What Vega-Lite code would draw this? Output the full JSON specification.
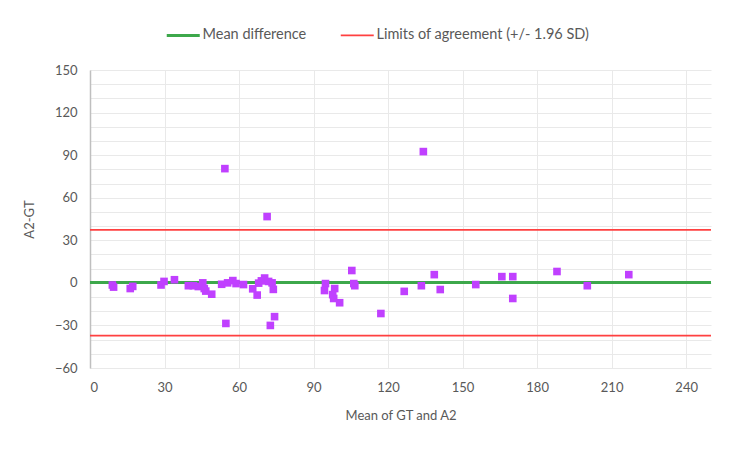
{
  "$schema": "https://vega.github.io/schema/vega-lite/v6.json",
  "width": 621,
  "height": 298,
  "autosize": "none",
  "padding": {"left": 90, "top": 70, "right": 39, "bottom": 82},
  "background": "white",
  "config": {
    "font": "Lato",
    "view": {"stroke": null},
    "axis": {
      "labelColor": "#595959",
      "titleColor": "#595959",
      "labelFont": "Lato",
      "titleFont": "Lato",
      "labelFontSize": 13,
      "titleFontSize": 13,
      "titleFontWeight": "normal",
      "ticks": false,
      "gridColor": "#e9e9e9",
      "gridWidth": 1
    },
    "legend": {
      "labelFont": "Lato",
      "labelFontSize": 14.5,
      "labelColor": "#595959",
      "labelLimit": 400
    }
  },
  "datasets": {
    "points": [
      {"mean": 9.0, "diff": -1.5},
      {"mean": 9.5, "diff": -3.0},
      {"mean": 16.2, "diff": -4.0},
      {"mean": 17.2, "diff": -2.5},
      {"mean": 28.6, "diff": -1.5},
      {"mean": 29.8, "diff": 1.0},
      {"mean": 34.0, "diff": 2.2},
      {"mean": 39.6, "diff": -2.0},
      {"mean": 41.6, "diff": -2.0},
      {"mean": 43.6, "diff": -2.6},
      {"mean": 45.4, "diff": 0.0},
      {"mean": 46.0, "diff": -4.0},
      {"mean": 46.6, "diff": -5.8},
      {"mean": 49.0, "diff": -8.0},
      {"mean": 53.0, "diff": -1.0},
      {"mean": 54.3, "diff": 80.5},
      {"mean": 54.7, "diff": -28.6},
      {"mean": 55.4, "diff": 0.0},
      {"mean": 57.5, "diff": 1.6},
      {"mean": 58.8, "diff": -0.5},
      {"mean": 61.8, "diff": -1.2},
      {"mean": 65.5, "diff": -4.2},
      {"mean": 67.3, "diff": -8.6},
      {"mean": 67.9, "diff": -0.2},
      {"mean": 69.0, "diff": 1.4},
      {"mean": 70.3, "diff": 3.4},
      {"mean": 71.3, "diff": 46.7},
      {"mean": 71.9, "diff": 1.0},
      {"mean": 72.6, "diff": -30.0},
      {"mean": 73.3, "diff": 0.0},
      {"mean": 73.8, "diff": -4.6},
      {"mean": 74.3, "diff": -23.8},
      {"mean": 94.8, "diff": -0.5},
      {"mean": 94.4, "diff": -5.4},
      {"mean": 98.5, "diff": -4.0},
      {"mean": 97.7, "diff": -8.3},
      {"mean": 98.1, "diff": -11.0},
      {"mean": 100.5, "diff": -14.0},
      {"mean": 105.4, "diff": 8.7},
      {"mean": 106.2, "diff": -0.5},
      {"mean": 106.6, "diff": -2.0},
      {"mean": 117.1, "diff": -21.6},
      {"mean": 126.5, "diff": -6.0},
      {"mean": 133.4, "diff": -2.0},
      {"mean": 134.2, "diff": 92.5},
      {"mean": 138.6, "diff": 5.8},
      {"mean": 141.0, "diff": -4.7},
      {"mean": 155.3, "diff": -1.2},
      {"mean": 165.8, "diff": 4.4},
      {"mean": 170.2, "diff": 4.4},
      {"mean": 170.2, "diff": -11.0},
      {"mean": 188.0, "diff": 8.0},
      {"mean": 200.2, "diff": -2.0},
      {"mean": 216.9, "diff": 5.8}
    ],
    "lines": [
      {"kind": "Mean difference", "diff": 0.2},
      {"kind": "Limits of agreement (+/- 1.96 SD)", "diff": 37.4},
      {"kind": "Limits of agreement (+/- 1.96 SD)", "diff": -37.1}
    ]
  },
  "encoding": {
    "y": {
      "field": "diff",
      "type": "quantitative",
      "scale": {"domain": [-60, 150], "nice": false, "zero": false},
      "axis": {
        "title": "A2-GT",
        "values": [-60, -50, -40, -30, -20, -10, 0, 10, 20, 30, 40, 50, 60, 70, 80, 90, 100, 110, 120, 130, 140, 150],
        "labelExpr": "datum.value % 30 == 0 ? datum.label : ''",
        "domain": true,
        "domainColor": "#bfbfbf",
        "domainWidth": 1.5,
        "labelPadding": 13,
        "titlePadding": 18,
        "grid": true
      }
    }
  },
  "layer": [
    {
      "data": {"name": "lines"},
      "transform": [{"filter": "datum.kind != 'Mean difference'"}],
      "mark": {"type": "rule", "strokeWidth": 1.75},
      "encoding": {
        "color": {
          "field": "kind",
          "type": "nominal",
          "scale": {
            "domain": ["Mean difference", "Limits of agreement (+/- 1.96 SD)"],
            "range": ["#3DA84B", "#FF4040"]
          },
          "legend": {
            "title": null,
            "orient": "none",
            "direction": "horizontal",
            "legendX": 86,
            "legendY": -42,
            "symbolType": "stroke",
            "symbolSize": 1089,
            "symbolStrokeWidth": 2.5,
            "labelOffset": 12,
            "columnPadding": 30,
            "encode": {
              "symbols": {
                "update": {
                  "strokeWidth": {"signal": "datum.value == 'Mean difference' ? 3 : 1.75"}
                }
              }
            }
          }
        }
      }
    },
    {
      "data": {"name": "lines"},
      "transform": [{"filter": "datum.kind == 'Mean difference'"}],
      "mark": {"type": "rule", "strokeWidth": 3},
      "encoding": {
        "color": {"field": "kind", "type": "nominal"}
      }
    },
    {
      "data": {"name": "points"},
      "mark": {"type": "square", "size": 58, "filled": true, "opacity": 1, "color": "#C040FF"},
      "encoding": {
        "x": {
          "field": "mean",
          "type": "quantitative",
          "scale": {"domain": [0, 250], "nice": false},
          "axis": {
            "title": "Mean of GT and A2",
            "values": [0, 30, 60, 90, 120, 150, 180, 210, 240],
            "domain": false,
            "grid": true,
            "labelPadding": 13,
            "titlePadding": 15
          }
        }
      }
    }
  ]
}
